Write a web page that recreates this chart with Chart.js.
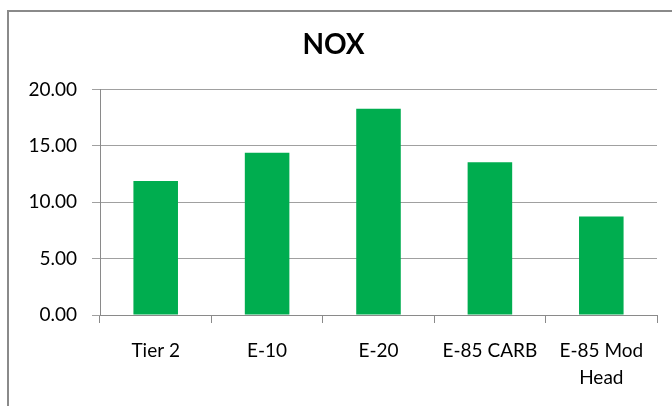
<!DOCTYPE html>
<html>
<head>
<meta charset="utf-8">
<script src="https://cdn.jsdelivr.net/npm/chart.js@4/dist/chart.umd.min.js"></script>
<style>
  html, body { margin: 0; padding: 0; background: #fff; }
  #wrap { width: 672px; height: 406px; position: relative; }
</style>
</head>
<body>
<div id="wrap"><canvas id="c" width="672" height="406"></canvas></div>
<script>
const categories = ["Tier 2", "E-10", "E-20", "E-85 CARB", ["E-85 Mod", "Head"]];
const noxValues = [11.9, 14.4, 18.3, 13.55, 8.75];
const yTicks = [0, 5, 10, 15, 20];

const frame = {
  id: 'frame',
  beforeDraw(chart) {
    const ctx = chart.ctx;
    ctx.save();
    ctx.fillStyle = '#fff';
    ctx.fillRect(0, 0, chart.width, chart.height);
    ctx.strokeStyle = '#8a8a8a';
    ctx.lineWidth = 2;
    ctx.strokeRect(8, 11, chart.width + 20, chart.height + 20);
    ctx.restore();
  }
};

new Chart(document.getElementById('c'), {
  type: 'bar',
  data: {
    labels: categories,
    datasets: [{
      label: 'NOX',
      data: noxValues,
      backgroundColor: '#00AD4F',
      borderWidth: 0,
      barPercentage: 0.4,
      categoryPercentage: 1.0
    }]
  },
  options: {
    responsive: false,
    animation: false,
    devicePixelRatio: 1,
    layout: { padding: { left: 10, right: 15, top: 0, bottom: 0 } },
    plugins: {
      legend: { display: false },
      tooltip: { enabled: false },
      title: {
        display: true,
        text: 'NOX',
        color: '#000',
        font: { family: 'Lato', size: 28, weight: 'bold', lineHeight: 1.2 },
        padding: { top: 28, bottom: 28 }
      }
    },
    scales: {
      x: {
        offset: true,
        grid: {
          display: true,
          offset: true,
          drawOnChartArea: false,
          drawTicks: true,
          tickLength: 8,
          color: '#8a8a8a'
        },
        border: { display: true, color: '#8a8a8a', width: 1 },
        ticks: {
          color: '#000',
          font: { family: 'Lato', size: 19, lineHeight: 1.45 },
          padding: 14,
          maxRotation: 0,
          autoSkip: false
        },
        afterFit(scale) { scale.height = 91; }
      },
      y: {
        min: 0,
        max: 20,
        afterBuildTicks(scale) { scale.ticks = yTicks.map(v => ({ value: v })); },
        grid: {
          color: '#a0a0a0',
          drawTicks: true,
          tickLength: 8
        },
        border: { display: true, color: '#8a8a8a', width: 1 },
        ticks: {
          color: '#000',
          font: { family: 'Lato', size: 19 },
          padding: 15,
          callback: v => Number(v).toFixed(2)
        },
        afterFit(scale) { scale.width = 90; }
      }
    }
  },
  plugins: [frame]
});
</script>
</body>
</html>
